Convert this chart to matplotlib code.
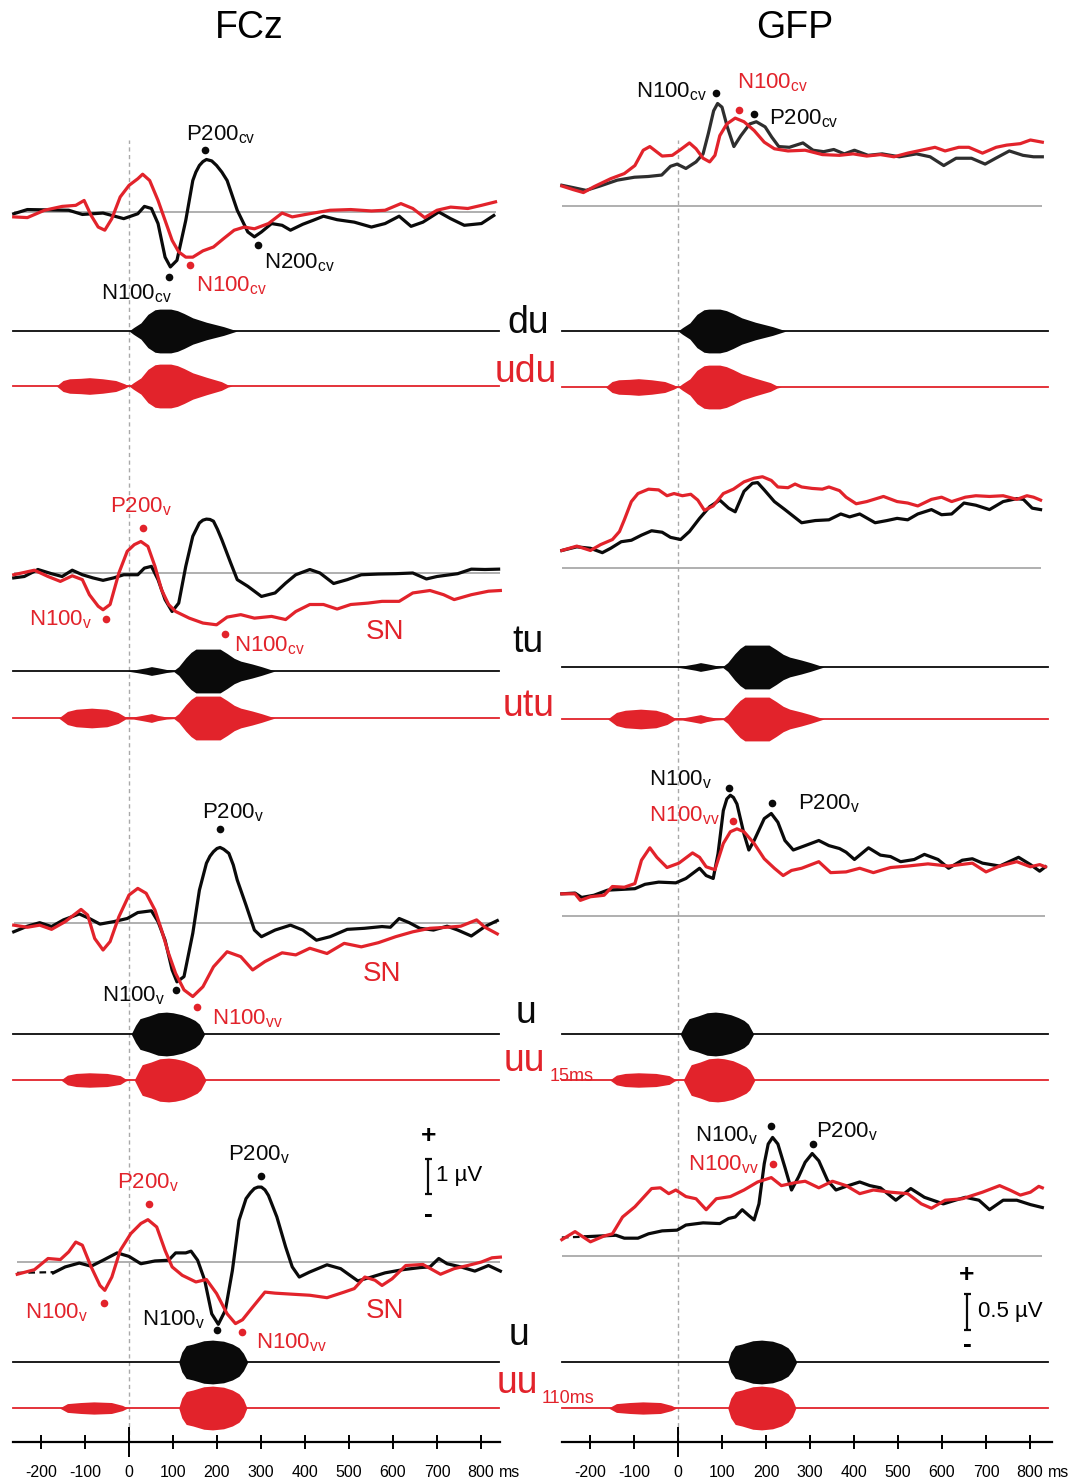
import matplotlib.pyplot as plt
import numpy as np

plt.rcParams['font.family'] = ['Liberation Sans', 'DejaVu Sans']
plt.rcParams['mathtext.default'] = 'regular'

W, H = 1072, 1483
RED = '#e2232b'
BLACK = '#0a0a0a'
DARK = '#2e2e2e'
GREY = '#a9a9a9'

# ---------------- data ----------------
ticks_ms = [-200, -100, 0, 100, 200, 300, 400, 500, 600, 700, 800]
tick_labels = ['-200', '-100', '0', '100', '200', '300', '400', '500', '600', '700', '800']

# FCz waveforms, (ms, uV)
fcz1_black = [(-262, -0.05), (-231, 0.07), (-137, 0.05), (-106, -0.07), (-59, -0.03), (-12, -0.19),
              (20, -0.05), (35, 0.16), (51, 0.1), (66, -0.33), (82, -1.29), (94, -1.57), (109, -1.38),
              (129, -0.24), (145, 0.9), (152, 1.14), (160, 1.33), (168, 1.44), (176, 1.5), (188, 1.46),
              (199, 1.33), (211, 1.14), (223, 0.9), (246, 0.05),
              (270, -0.57), (285, -0.71), (301, -0.57), (324, -0.33), (348, -0.38), (367, -0.52),
              (395, -0.35), (418, -0.24), (442, -0.12), (473, -0.22), (512, -0.29), (551, -0.43),
              (582, -0.33), (614, -0.12), (641, -0.41), (668, -0.29), (704, 0.0), (731, -0.19),
              (762, -0.38), (801, -0.33), (829, -0.1)]
fcz1_red = [(-262, -0.14), (-231, -0.16), (-192, 0.05), (-152, 0.16), (-121, 0.19), (-102, 0.33),
            (-86, -0.1), (-70, -0.43), (-55, -0.52), (-39, -0.19), (-20, 0.43), (0, 0.76), (20, 0.95),
            (31, 1.08), (47, 0.9), (66, 0.33), (82, -0.24), (98, -0.81), (113, -1.14), (129, -1.29),
            (145, -1.29), (168, -1.11), (192, -1.0), (215, -0.76), (239, -0.52), (262, -0.43),
            (285, -0.48), (317, -0.33), (348, -0.03), (371, -0.14), (410, -0.05), (457, 0.05),
            (504, 0.07), (551, 0.03), (582, 0.05), (618, 0.24), (645, 0.1), (672, -0.16), (700, 0.05),
            (731, 0.14), (770, 0.1), (801, 0.19), (833, 0.29)]

fcz2_black = [(-262, -0.14), (-238, -0.1), (-207, 0.1), (-176, -0.02), (-152, -0.1), (-129, 0.08),
              (-106, -0.05), (-82, -0.14), (-59, -0.21), (-35, -0.14), (-12, -0.05), (20, -0.05),
              (35, 0.14), (51, 0.19), (66, -0.19), (82, -0.76), (98, -1.1), (113, -0.86), (129, 0.19),
              (145, 1.05), (160, 1.43), (168, 1.51), (176, 1.54), (184, 1.53), (192, 1.48), (201, 1.25),
              (211, 0.95), (231, 0.29), (246, -0.19),
              (270, -0.38), (301, -0.67), (332, -0.57), (356, -0.29), (379, -0.05), (411, 0.1), (434, 0.0),
              (465, -0.3), (496, -0.19), (528, -0.05), (567, -0.03), (606, -0.02), (645, 0.0),
              (676, -0.17), (700, -0.1), (747, -0.02), (778, 0.11), (809, 0.1), (840, 0.11)]
fcz2_red = [(-262, -0.05), (-215, 0.08), (-184, -0.1), (-156, -0.24), (-129, -0.08), (-106, -0.19),
            (-90, -0.62), (-70, -0.95), (-59, -1.05), (-43, -0.9), (-23, 0.0), (-4, 0.62), (12, 0.81),
            (27, 0.9), (43, 0.76), (59, 0.19), (74, -0.48), (90, -0.9), (106, -1.1), (137, -1.29),
            (168, -1.43), (199, -1.48), (223, -1.26), (254, -1.19), (285, -1.29), (324, -1.24),
            (356, -1.33), (379, -1.1), (411, -0.9), (442, -0.9), (473, -1.03), (504, -0.9), (543, -0.86),
            (575, -0.81), (614, -0.81), (645, -0.57), (684, -0.5), (715, -0.62), (739, -0.76),
            (778, -0.62), (817, -0.52), (844, -0.5)]

fcz3_black = [(-262, -0.26), (-231, -0.1), (-203, 0.0), (-176, -0.11), (-149, 0.08), (-113, 0.25),
              (-90, 0.12), (-66, -0.04), (-35, 0.03), (-4, 0.12), (20, 0.29), (51, 0.34), (66, 0.03),
              (82, -0.5), (98, -1.35), (109, -1.69), (125, -1.54), (145, -0.3), (160, 0.93), (176, 1.7),
              (184, 1.9), (192, 2.03), (200, 2.12), (207, 2.15), (215, 2.1), (227, 1.98), (237, 1.65),
              (246, 1.22), (266, 0.5), (285, -0.21), (301, -0.4),
              (332, -0.21), (367, -0.07), (395, -0.21), (426, -0.5), (457, -0.4), (496, -0.19),
              (535, -0.16), (575, -0.11), (594, -0.13), (614, 0.12), (637, 0.0), (661, -0.16),
              (692, -0.21), (723, -0.1), (747, -0.21), (778, -0.38), (809, -0.11), (837, 0.06)]
fcz3_red = [(-262, -0.07), (-231, -0.13), (-203, -0.07), (-176, -0.19), (-145, 0.03), (-109, 0.38),
            (-94, 0.22), (-78, -0.45), (-59, -0.78), (-43, -0.54), (-23, 0.17), (0, 0.79), (20, 0.98),
            (39, 0.84), (59, 0.36), (74, -0.21), (90, -0.88), (106, -1.45), (125, -1.92), (145, -2.11),
            (168, -1.83), (192, -1.26), (223, -0.83), (254, -0.97), (281, -1.35), (309, -1.11),
            (348, -0.86), (379, -0.92), (411, -0.73), (450, -0.88), (489, -0.59), (528, -0.69),
            (567, -0.57), (606, -0.4), (645, -0.26), (684, -0.16), (723, -0.13), (754, -0.1),
            (790, 0.08), (809, -0.13), (837, -0.32)]

fcz4_black_pre = [(-254, -0.31), (-172, -0.29)]
fcz4_black = [(-172, -0.31), (-145, -0.14), (-113, -0.03), (-86, -0.12), (-59, 0.05), (-27, 0.26),
              (0, 0.16), (27, -0.05), (59, 0.03), (90, 0.05), (106, 0.26), (129, 0.26), (141, 0.31),
              (156, 0.05), (172, -0.52), (188, -1.48), (203, -1.78), (219, -1.38), (235, -0.24),
              (250, 1.19), (266, 1.81), (276, 1.98), (285, 2.1), (293, 2.14), (301, 2.14), (309, 2.06),
              (317, 1.9), (336, 1.29), (356, 0.43),
              (371, -0.14), (387, -0.43), (410, -0.29), (450, -0.08), (481, -0.19), (520, -0.54),
              (551, -0.43), (582, -0.31), (622, -0.22), (661, -0.16), (684, -0.14), (704, 0.1),
              (723, -0.05), (754, -0.14), (786, -0.26), (817, -0.1), (844, -0.26)]
fcz4_red = [(-254, -0.35), (-215, -0.22), (-184, 0.1), (-156, 0.07), (-137, 0.29), (-121, 0.57),
            (-106, 0.48), (-86, -0.14), (-66, -0.67), (-55, -0.81), (-39, -0.43), (-20, 0.33), (4, 0.81),
            (27, 1.1), (43, 1.21), (63, 1.0), (82, 0.33), (98, -0.14), (121, -0.38), (152, -0.57),
            (176, -0.5), (199, -0.9), (223, -1.48), (242, -1.76), (258, -1.65), (281, -1.29),
            (309, -0.86), (332, -0.89), (371, -0.92), (411, -0.95), (450, -1.02), (489, -0.86),
            (512, -0.76), (536, -0.43), (559, -0.52), (575, -0.67), (598, -0.48), (629, -0.1),
            (668, -0.07), (708, -0.35), (739, -0.19), (770, -0.1), (801, 0.0), (825, 0.12), (844, 0.14)]

# GFP waveforms, (ms, uV)
gfp1_black = [(-264, 0.28), (-240, 0.25), (-209, 0.21), (-177, 0.27), (-138, 0.35), (-99, 0.39),
              (-68, 0.4), (-37, 0.42), (-17, 0.54), (-2, 0.57), (18, 0.51), (41, 0.6), (57, 0.71),
              (69, 0.99), (81, 1.3), (90, 1.4), (100, 1.35), (112, 1.08), (127, 0.81), (143, 0.96),
              (163, 1.12), (178, 1.15), (198, 1.08), (213, 0.94), (229, 0.81), (253, 0.8), (284, 0.86),
              (307, 0.76), (331, 0.74), (354, 0.77), (378, 0.71), (401, 0.76), (432, 0.69), (464, 0.71),
              (503, 0.67), (542, 0.71), (573, 0.67), (604, 0.55), (632, 0.65), (667, 0.65), (698, 0.57),
              (722, 0.65), (753, 0.75), (784, 0.69), (808, 0.67), (828, 0.67)]
gfp1_red = [(-264, 0.27), (-238, 0.22), (-215, 0.18), (-191, 0.26), (-153, 0.37), (-122, 0.44),
            (-98, 0.55), (-79, 0.76), (-64, 0.81), (-36, 0.68), (-13, 0.69), (6, 0.77), (26, 0.86),
            (41, 0.78), (57, 0.65), (72, 0.6), (84, 0.69), (95, 0.96), (111, 1.12), (130, 1.2),
            (150, 1.15), (173, 1.03), (196, 0.87), (219, 0.78), (250, 0.75), (289, 0.76), (328, 0.7),
            (367, 0.69), (398, 0.71), (429, 0.68), (460, 0.7), (491, 0.67), (522, 0.72), (553, 0.76),
            (584, 0.8), (607, 0.75), (638, 0.8), (661, 0.8), (692, 0.72), (723, 0.8), (747, 0.83),
            (778, 0.85), (801, 0.9), (828, 0.87)]

gfp2_black = [(-264, 0.24), (-230, 0.29), (-199, 0.27), (-172, 0.21), (-153, 0.27), (-129, 0.36),
              (-106, 0.38), (-83, 0.45), (-60, 0.51), (-36, 0.49), (-17, 0.42), (6, 0.39), (26, 0.5),
              (49, 0.68), (72, 0.84), (95, 0.93), (115, 0.82), (130, 0.77), (150, 1.05), (169, 1.16),
              (181, 1.17), (196, 1.07), (219, 0.91), (243, 0.8), (281, 0.62), (312, 0.65), (343, 0.66),
              (370, 0.74), (390, 0.7), (413, 0.74), (448, 0.62), (475, 0.65), (498, 0.68), (522, 0.66),
              (545, 0.74), (576, 0.8), (599, 0.73), (622, 0.74), (650, 0.89), (677, 0.86), (708, 0.8),
              (739, 0.91), (770, 0.95), (785, 0.94), (805, 0.82), (824, 0.8)]
gfp2_red = [(-264, 0.24), (-230, 0.3), (-199, 0.24), (-176, 0.32), (-149, 0.39), (-133, 0.5),
            (-122, 0.66), (-106, 0.91), (-91, 1.02), (-67, 1.08), (-44, 1.07), (-25, 0.99), (-9, 1.02),
            (10, 0.99), (29, 1.01), (45, 0.93), (60, 0.79), (80, 0.85), (103, 1.02), (126, 1.08),
            (150, 1.18), (173, 1.23), (192, 1.25), (212, 1.2), (227, 1.11), (250, 1.1), (266, 1.15),
            (281, 1.11), (305, 1.09), (328, 1.08), (343, 1.11), (367, 1.06), (382, 0.97), (405, 0.88),
            (429, 0.91), (467, 0.98), (498, 0.91), (522, 0.89), (545, 0.85), (576, 0.94), (599, 0.97),
            (622, 0.91), (653, 0.97), (677, 0.99), (708, 0.98), (739, 0.99), (770, 0.94), (793, 0.99),
            (808, 0.97), (824, 0.93)]

gfp3_black = [(-264, 0.3), (-234, 0.31), (-219, 0.25), (-191, 0.28), (-160, 0.35), (-129, 0.36),
              (-98, 0.37), (-75, 0.43), (-44, 0.46), (-5, 0.45), (18, 0.51), (49, 0.65), (64, 0.55),
              (80, 0.51), (91, 0.85), (103, 1.44), (111, 1.6), (119, 1.65), (126, 1.62), (134, 1.53),
              (150, 1.12), (161, 0.9),
              (173, 1.03), (196, 1.33), (212, 1.4), (227, 1.28), (243, 1.03), (262, 0.9), (289, 0.96),
              (320, 1.03), (343, 0.96), (367, 0.92), (382, 0.87), (401, 0.77), (433, 0.93), (460, 0.83),
              (483, 0.81), (506, 0.74), (537, 0.77), (560, 0.84), (591, 0.77), (615, 0.65), (646, 0.76),
              (669, 0.78), (692, 0.72), (731, 0.68), (774, 0.8), (801, 0.7), (822, 0.61), (835, 0.67)]
gfp3_red = [(-264, 0.3), (-234, 0.3), (-222, 0.21), (-199, 0.26), (-168, 0.28), (-149, 0.4),
            (-122, 0.39), (-98, 0.44), (-83, 0.76), (-64, 0.93), (-48, 0.8), (-25, 0.66), (2, 0.72),
            (33, 0.86), (49, 0.8), (64, 0.67), (84, 0.63), (103, 0.99), (119, 1.15), (134, 1.19),
            (150, 1.15), (173, 0.99), (196, 0.78), (219, 0.65), (239, 0.55), (258, 0.62), (281, 0.65),
            (320, 0.74), (347, 0.59), (382, 0.6), (413, 0.65), (444, 0.59), (483, 0.66), (522, 0.68),
            (568, 0.71), (615, 0.68), (669, 0.72), (700, 0.6), (731, 0.68), (770, 0.74), (801, 0.67),
            (822, 0.7), (835, 0.67)]

gfp4_black_pre = [(-264, 0.25), (-211, 0.26)]
gfp4_black = [(-211, 0.26), (-176, 0.27), (-141, 0.28), (-122, 0.24), (-91, 0.24), (-67, 0.3),
              (-36, 0.34), (-2, 0.35), (18, 0.42), (57, 0.45), (95, 0.44), (115, 0.51), (130, 0.53),
              (146, 0.63), (161, 0.55), (173, 0.49), (184, 0.71), (196, 1.26), (205, 1.53), (215, 1.62),
              (227, 1.53), (243, 1.21), (258, 0.9), (274, 1.08), (289, 1.28), (305, 1.4), (320, 1.3),
              (340, 1.03), (359, 0.9), (382, 0.95), (413, 1.01), (436, 0.96), (460, 0.93), (495, 0.76),
              (529, 0.92), (560, 0.8), (603, 0.71), (630, 0.76), (653, 0.8), (684, 0.76), (708, 0.63),
              (739, 0.76), (770, 0.76), (801, 0.7), (828, 0.66)]
gfp4_red = [(-264, 0.22), (-234, 0.33), (-199, 0.19), (-168, 0.27), (-149, 0.3), (-126, 0.53),
            (-98, 0.67), (-60, 0.92), (-40, 0.93), (-21, 0.85), (-5, 0.9), (18, 0.81), (41, 0.78),
            (64, 0.63), (87, 0.78), (119, 0.81), (150, 0.9), (181, 1.01), (212, 1.07), (235, 0.96),
            (266, 1.0), (289, 1.02), (320, 0.93), (351, 1.02), (382, 0.96), (413, 0.85), (444, 0.9),
            (483, 0.87), (522, 0.85), (553, 0.71), (576, 0.65), (607, 0.76), (646, 0.78), (692, 0.87),
            (731, 0.96), (754, 0.9), (778, 0.83), (801, 0.87), (820, 0.95), (828, 0.93)]

# peak markers, (ms, uV)
fcz1_dots_k = [(90, -1.86), (173, 1.78), (293, -0.95)]
fcz1_dots_r = [(139, -1.52)]
fcz2_dots_k = []
fcz2_dots_r = [(31, 1.30), (-52, -1.31), (219, -1.74)]
fcz3_dots_k = [(207, 2.67), (107, -1.92)]
fcz3_dots_r = [(155, -2.42)]
fcz4_dots_k = [(299, 2.46), (199, -1.95)]
fcz4_dots_r = [(45, 1.67), (-56, -1.17), (256, -2.01)]
gfp1_dots_k = [(86, 1.54), (173, 1.25)]
gfp1_dots_r = [(138, 1.31)]
gfp2_dots_k = []
gfp2_dots_r = []
gfp3_dots_k = [(116, 1.75), (214, 1.55)]
gfp3_dots_r = [(126, 1.30)]
gfp4_dots_k = [(212, 1.78), (307, 1.53)]
gfp4_dots_r = [(217, 1.25)]

# stimulus amplitude envelopes, (ms, relative amplitude)
env_du = [(-264, 0), (0, 0), (10, 0.15), (27, 0.37), (43, 0.76), (59, 0.97), (70, 1.0), (95, 1.0),
          (110, 0.93), (125, 0.8), (145, 0.6), (176, 0.4), (215, 0.2), (246, 0), (840, 0)]
env_udu = [(-264, 0), (-165, 0), (-150, 0.25), (-135, 0.33), (-110, 0.35), (-90, 0.38), (-60, 0.33),
           (-30, 0.25), (-10, 0.1), (0, 0), (10, 0.15), (27, 0.37), (43, 0.76), (59, 0.97), (70, 1.0),
           (95, 1.0), (110, 0.93), (125, 0.8), (145, 0.6), (176, 0.4), (210, 0.2), (225, 0.05),
           (235, 0), (840, 0)]
env_tu = [(-264, 0), (-5, 0), (20, 0.08), (40, 0.15), (51, 0.2), (65, 0.15), (85, 0.07), (102, 0.03),
          (113, 0.2), (129, 0.6), (141, 0.85), (152, 1.0), (207, 1.0), (223, 0.8), (239, 0.58),
          (254, 0.45), (280, 0.32), (301, 0.2), (332, 0), (840, 0)]
env_utu = [(-264, 0), (-160, 0), (-140, 0.3), (-120, 0.4), (-85, 0.45), (-50, 0.4), (-25, 0.25),
           (-8, 0.05), (10, 0.05), (30, 0.12), (51, 0.2), (65, 0.12), (85, 0.05), (102, 0.03),
           (113, 0.2), (129, 0.6), (141, 0.85), (152, 1.0), (207, 1.0), (223, 0.8), (239, 0.58),
           (254, 0.45), (280, 0.32), (301, 0.2), (332, 0), (840, 0)]
env_u15 = [(-264, 0), (5, 0), (15, 0.4), (25, 0.7), (45, 0.82), (66, 0.97), (85, 1.0), (100, 0.97),
           (120, 0.88), (137, 0.75), (150, 0.62), (160, 0.45), (172, 0), (840, 0)]
env_uu15 = [(-264, 0), (-155, 0), (-140, 0.22), (-120, 0.3), (-90, 0.33), (-50, 0.3), (-20, 0.2),
            (-8, 0.05), (0, 0), (12, 0), (22, 0.4), (30, 0.7), (50, 0.82), (70, 0.97), (90, 1.0),
            (105, 0.97), (125, 0.88), (140, 0.75), (155, 0.6), (163, 0.45), (175, 0), (840, 0)]
env_u110 = [(-264, 0), (113, 0), (120, 0.45), (130, 0.75), (145, 0.82), (170, 0.97), (190, 1.0),
            (215, 0.95), (235, 0.82), (250, 0.65), (260, 0.4), (270, 0), (840, 0)]
env_uu110 = [(-264, 0), (-158, 0), (-140, 0.2), (-110, 0.25), (-80, 0.28), (-40, 0.25), (-15, 0.12),
             (-3, 0), (113, 0), (120, 0.45), (130, 0.75), (145, 0.82), (170, 0.97), (190, 1.0),
             (215, 0.95), (235, 0.82), (250, 0.65), (260, 0.4), (268, 0), (840, 0)]

scale_fcz_uv = 1.0
scale_gfp_uv = 0.5

# ---------------- layout ----------------
fig = plt.figure(figsize=(W / 100, H / 100), dpi=100)

ZERO = {'FCz': 129, 'GFP': 678}   # pixel column of 0 ms
PX_PER_MS = 0.44
XLIM = (-270, 850)


def px_axes(x0, x1, y0, y1):
    ax = fig.add_axes([x0 / W, 1 - y1 / H, (x1 - x0) / W, (y1 - y0) / H])
    ax.set_axis_off()
    ax.patch.set_alpha(0)
    return ax


def col_x(col):
    z = ZERO[col]
    return z + PX_PER_MS * XLIM[0], z + PX_PER_MS * XLIM[1]


def ftext(x, y, s, **kw):
    fig.text(x / W, 1 - y / H, s, **kw)


# dashed stimulus-onset lines
for col in ZERO:
    x0, x1 = col_x(col)
    ax = px_axes(x0, x1, 140, 1442)
    ax.set_xlim(XLIM)
    ax.axvline(0, color=GREY, lw=1.0, ls=(0, (3, 2.5)))


def erp_panel(col, base, scale, lo, hi, black, red, dots_k, dots_r, kcolor=BLACK, pre=None):
    x0, x1 = col_x(col)
    ax = px_axes(x0, x1, base - hi * scale, base - lo * scale)
    ax.set_xlim(XLIM)
    ax.set_ylim(lo, hi)
    tk, vk = np.array(black).T
    tr, vr = np.array(red).T
    tstart = min(tk.min(), tr.min()) if pre is None else min(np.array(pre)[:, 0].min(), tr.min())
    ax.hlines(0, tstart, max(tk.max(), tr.max()), color=GREY, lw=1.3, zorder=1)
    if pre is not None:
        tp, vp = np.array(pre).T
        ax.plot(tp, vp, color=kcolor, lw=1.6, ls=(0, (3, 2)), zorder=2)
    ax.plot(tk, vk, color=kcolor, lw=2.3, solid_joinstyle='round', zorder=3)
    ax.plot(tr, vr, color=RED, lw=2.3, solid_joinstyle='round', zorder=4)
    for pts, c in ((dots_k, BLACK), (dots_r, RED)):
        if pts:
            t, v = np.array(pts).T
            ax.plot(t, v, 'o', color=c, ms=5.5, mec='none', zorder=5)
    return ax


def env_panel(col, center, env, color):
    x0, x1 = col_x(col)
    ax = px_axes(x0, x1, center - 23, center + 23)
    ax.set_xlim(XLIM)
    ax.set_ylim(-1.05, 1.05)
    t, a = np.array(env).T
    ax.fill_between(t, -a, a, color=color, lw=0)
    ax.plot(t, np.zeros_like(t), color=color, lw=1.3)


def lab(ax, t, v, s, color=BLACK, size=16):
    ax.text(t, v, s, color=color, fontsize=size, ha='left', va='baseline')


FCZ_S, GFP_S = 35, 73
FCZ_BASE = [212, 573, 922.7, 1262]
GFP_BASE = [205.7, 568, 915.7, 1255.7]

a1 = erp_panel('FCz', FCZ_BASE[0], FCZ_S, -3.4, 3.6, fcz1_black, fcz1_red, fcz1_dots_k, fcz1_dots_r)
lab(a1, 130, 2.06, 'P200$_{cv}$')
lab(a1, 307, -1.6, 'N200$_{cv}$')
lab(a1, -64, -2.49, 'N100$_{cv}$')
lab(a1, 152, -2.26, 'N100$_{cv}$', RED)

a2 = erp_panel('FCz', FCZ_BASE[1], FCZ_S, -3.4, 3.6, fcz2_black, fcz2_red, fcz2_dots_k, fcz2_dots_r)
lab(a2, -43, 1.74, 'P200$_{v}$', RED)
lab(a2, -227, -1.51, 'N100$_{v}$', RED)
lab(a2, 239, -2.23, 'N100$_{cv}$', RED)
lab(a2, 539, -1.89, 'SN', RED, 20)

a3 = erp_panel('FCz', FCZ_BASE[2], FCZ_S, -3.4, 3.6, fcz3_black, fcz3_red, fcz3_dots_k, fcz3_dots_r)
lab(a3, 166, 2.99, 'P200$_{v}$')
lab(a3, -61, -2.24, 'N100$_{v}$')
lab(a3, 189, -2.92, 'N100$_{vv}$', RED)
lab(a3, 532, -1.67, 'SN', RED, 20)

a4 = erp_panel('FCz', FCZ_BASE[3], FCZ_S, -3.4, 3.8, fcz4_black, fcz4_red, fcz4_dots_k, fcz4_dots_r,
               pre=fcz4_black_pre)
lab(a4, 225, 2.89, 'P200$_{v}$')
lab(a4, -27, 2.09, 'P200$_{v}$', RED)
lab(a4, -236, -1.6, 'N100$_{v}$', RED)
lab(a4, 30, -1.8, 'N100$_{v}$')
lab(a4, 289, -2.46, 'N100$_{vv}$', RED)
lab(a4, 539, -1.6, 'SN', RED, 20)
# 1 uV scale bar
a4.vlines(680, 1.95, 1.95 + scale_fcz_uv, color=BLACK, lw=1.6)
a4.hlines([1.95, 1.95 + scale_fcz_uv], 672, 688, color=BLACK, lw=1.6)
a4.text(680, 3.6, '+', fontsize=19, fontweight='bold', ha='center', va='center')
a4.text(680, 1.35, '-', fontsize=19, fontweight='bold', ha='center', va='center')
a4.text(698, 2.46, '1 \u00b5V', fontsize=16, ha='left', va='center')

g1 = erp_panel('GFP', GFP_BASE[0], GFP_S, -1.4, 2.2, gfp1_black, gfp1_red, gfp1_dots_k, gfp1_dots_r,
               kcolor=DARK)
lab(g1, -95, 1.48, 'N100$_{cv}$')
lab(g1, 134, 1.61, 'N100$_{cv}$', RED)
lab(g1, 207, 1.12, 'P200$_{cv}$')

g2 = erp_panel('GFP', GFP_BASE[1], GFP_S, -1.4, 2.2, gfp2_black, gfp2_red, gfp2_dots_k, gfp2_dots_r)

g3 = erp_panel('GFP', GFP_BASE[2], GFP_S, -1.4, 2.2, gfp3_black, gfp3_red, gfp3_dots_k, gfp3_dots_r)
lab(g3, -66, 1.79, 'N100$_{v}$')
lab(g3, -66, 1.29, 'N100$_{vv}$', RED)
lab(g3, 273, 1.45, 'P200$_{v}$')

g4 = erp_panel('GFP', GFP_BASE[3], GFP_S, -1.4, 2.2, gfp4_black, gfp4_red, gfp4_dots_k, gfp4_dots_r,
               pre=gfp4_black_pre)
lab(g4, 39, 1.57, 'N100$_{v}$')
lab(g4, 23, 1.17, 'N100$_{vv}$', RED)
lab(g4, 314, 1.62, 'P200$_{v}$')
# 0.5 uV scale bar
g4.vlines(657, -1.02, -1.02 + scale_gfp_uv, color=BLACK, lw=1.6)
g4.hlines([-1.02, -1.02 + scale_gfp_uv], 649, 665, color=BLACK, lw=1.6)
g4.text(657, -0.27, '+', fontsize=19, fontweight='bold', ha='center', va='center')
g4.text(657, -1.22, '-', fontsize=19, fontweight='bold', ha='center', va='center')
g4.text(682, -0.76, '0.5 \u00b5V', fontsize=16, ha='left', va='center')

# stimulus envelopes
ENV_ROWS = [
    ((331, 386), (331, 387), env_du, env_udu),
    ((671, 718), (667, 719), env_tu, env_utu),
    ((1034, 1080), (1034, 1080), env_u15, env_uu15),
    ((1362, 1408), (1362, 1408), env_u110, env_uu110),
]
for (lk, lr), (rk, rr), ek, er in ENV_ROWS:
    env_panel('FCz', lk, ek, BLACK)
    env_panel('FCz', lr, er, RED)
    env_panel('GFP', rk, ek, BLACK)
    env_panel('GFP', rr, er, RED)

# condition names
ftext(528, 333, 'du', fontsize=27, ha='center', va='baseline', color=BLACK)
ftext(526, 382, 'udu', fontsize=27, ha='center', va='baseline', color=RED)
ftext(528, 652, 'tu', fontsize=27, ha='center', va='baseline', color=BLACK)
ftext(529, 716, 'utu', fontsize=27, ha='center', va='baseline', color=RED)
ftext(526, 1023, 'u', fontsize=27, ha='center', va='baseline', color=BLACK)
ftext(524, 1071, 'uu', fontsize=27, ha='center', va='baseline', color=RED)
ftext(550, 1081, '15ms', fontsize=13, ha='left', va='baseline', color=RED)
ftext(519, 1345, 'u', fontsize=27, ha='center', va='baseline', color=BLACK)
ftext(517, 1393, 'uu', fontsize=27, ha='center', va='baseline', color=RED)
ftext(542, 1403, '110ms', fontsize=13, ha='left', va='baseline', color=RED)

# titles
ftext(249, 38, 'FCz', fontsize=27, ha='center', va='baseline')
ftext(795, 38, 'GFP', fontsize=27, ha='center', va='baseline')

# time axes
for col, right in (('FCz', 843), ('GFP', 850)):
    x0, x1 = col_x(col)
    ax = fig.add_axes([x0 / W, 1 - 1442 / H, (x1 - x0) / W, 10 / H])
    ax.patch.set_alpha(0)
    for s in ('top', 'left', 'right'):
        ax.spines[s].set_visible(False)
    ax.spines['bottom'].set_linewidth(1.6)
    ax.spines['bottom'].set_bounds(-264, right)
    ax.set_xlim(XLIM)
    ax.set_yticks([])
    ax.set_xticks(ticks_ms, tick_labels)
    ax.tick_params(axis='x', direction='inout', length=10, width=1.4, pad=11.5, labelsize=11.5)
    ax.xaxis.get_major_ticks()[ticks_ms.index(0)].tick1line.set_markersize(21)
    lbl = ax.get_xticklabels()[-1]
    ax.annotate('ms', xy=(1, 0), xycoords=lbl, xytext=(3, 0), textcoords='offset points',
                ha='left', va='bottom', fontsize=11.5)

fig.savefig('out.png', dpi=100)
